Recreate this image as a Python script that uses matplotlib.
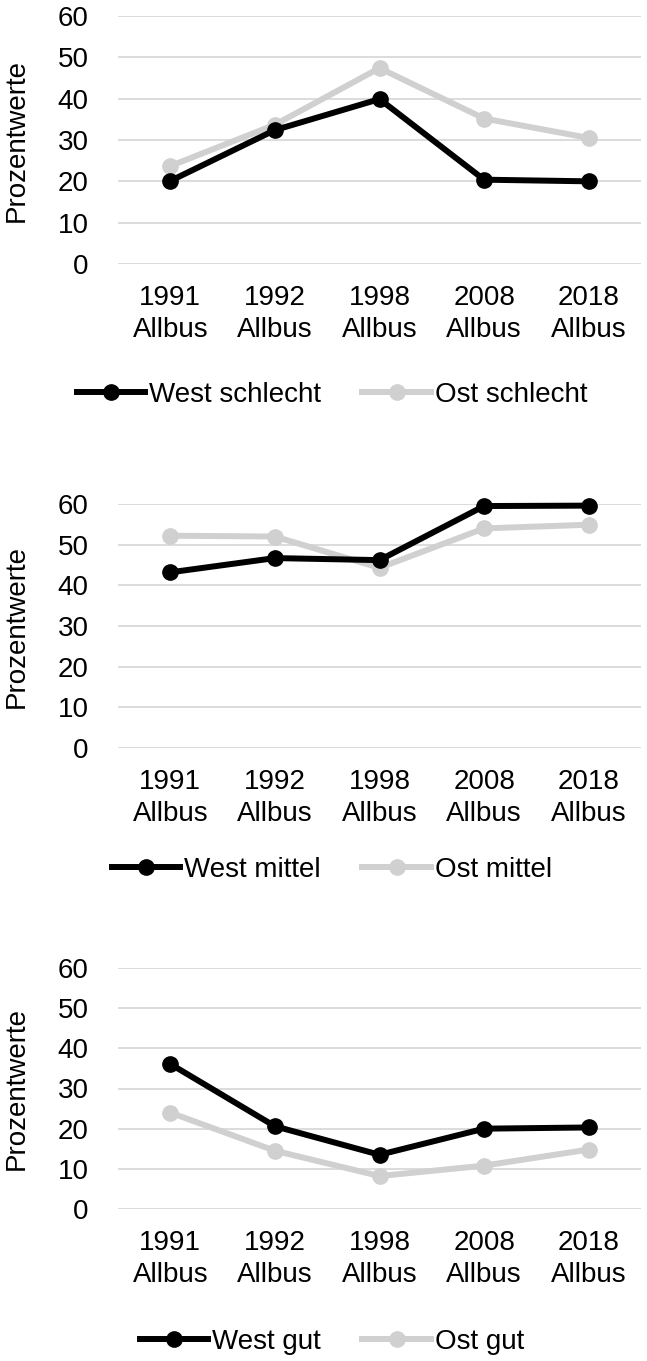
import matplotlib
matplotlib.use("Agg")
import matplotlib.pyplot as plt
from matplotlib.lines import Line2D

plt.rcParams['font.family'] = ['Liberation Sans', 'DejaVu Sans']

categories = ["1991\nAllbus", "1992\nAllbus", "1998\nAllbus", "2008\nAllbus", "2018\nAllbus"]
yticks = [0, 10, 20, 30, 40, 50, 60]

west_schlecht = [20.1, 32.4, 39.9, 20.4, 20.0]
ost_schlecht = [23.7, 33.7, 47.4, 35.2, 30.5]
west_mittel = [43.2, 46.7, 46.2, 59.5, 59.6]
ost_mittel = [52.2, 52.0, 44.3, 54.0, 54.9]
west_gut = [36.1, 20.6, 13.5, 20.0, 20.3]
ost_gut = [24.0, 14.5, 8.2, 10.8, 14.8]

panels = [
    (west_schlecht, ost_schlecht, "West schlecht", "Ost schlecht"),
    (west_mittel, ost_mittel, "West mittel", "Ost mittel"),
    (west_gut, ost_gut, "West gut", "Ost gut"),
]

W, H = 647, 1361
fig = plt.figure(figsize=(W / 100, H / 100), dpi=100)

ax_px = [(16, 264), (504, 748), (968, 1209)]
legend_y = [395, 870, 1342]
left_px, right_px = 118, 641

black = "#000000"
gray = "#d0d0d0"
fs = 20
lw = 4.3
ms = 11

for i, (w, o, lw_lab, lo_lab) in enumerate(panels):
    top, bot = ax_px[i]
    ax = fig.add_axes([left_px / W, 1 - bot / H, (right_px - left_px) / W, (bot - top) / H])
    x = list(range(len(categories)))
    ax.plot(x, o, color=gray, lw=lw, marker='o', ms=ms, label=lo_lab, zorder=3,
            solid_joinstyle='round', clip_on=False)
    ax.plot(x, w, color=black, lw=lw, marker='o', ms=ms, label=lw_lab, zorder=4,
            solid_joinstyle='round', clip_on=False)
    ax.set_xlim(-0.5, len(categories) - 0.5)
    ax.set_ylim(0, 60)
    ax.set_yticks(yticks)
    ax.set_yticklabels([str(t) for t in yticks], fontsize=fs)
    ax.set_xticks(x)
    ax.set_xticklabels(categories, fontsize=fs, linespacing=1.32)
    ax.grid(axis='y', color='#d9d9d9', lw=1.3)
    ax.set_axisbelow(True)
    for s in ax.spines.values():
        s.set_visible(False)
    ax.tick_params(axis='both', length=0)
    ax.tick_params(axis='y', pad=21)
    ax.tick_params(axis='x', pad=15)
    ax.set_ylabel("Prozentwerte", fontsize=fs)
    ax.yaxis.set_label_coords(-0.168, 0.5)

    handles = [Line2D([], [], color=black, lw=lw, marker='o', ms=ms),
               Line2D([], [], color=gray, lw=lw, marker='o', ms=ms)]
    fig.legend(handles, [lw_lab, lo_lab], loc='center',
               bbox_to_anchor=(0.513, 1 - legend_y[i] / H), ncol=2, frameon=False,
               fontsize=fs, handlelength=2.45, handletextpad=0.15, columnspacing=1.5,
               borderpad=0)

fig.savefig("out.png", dpi=100)
